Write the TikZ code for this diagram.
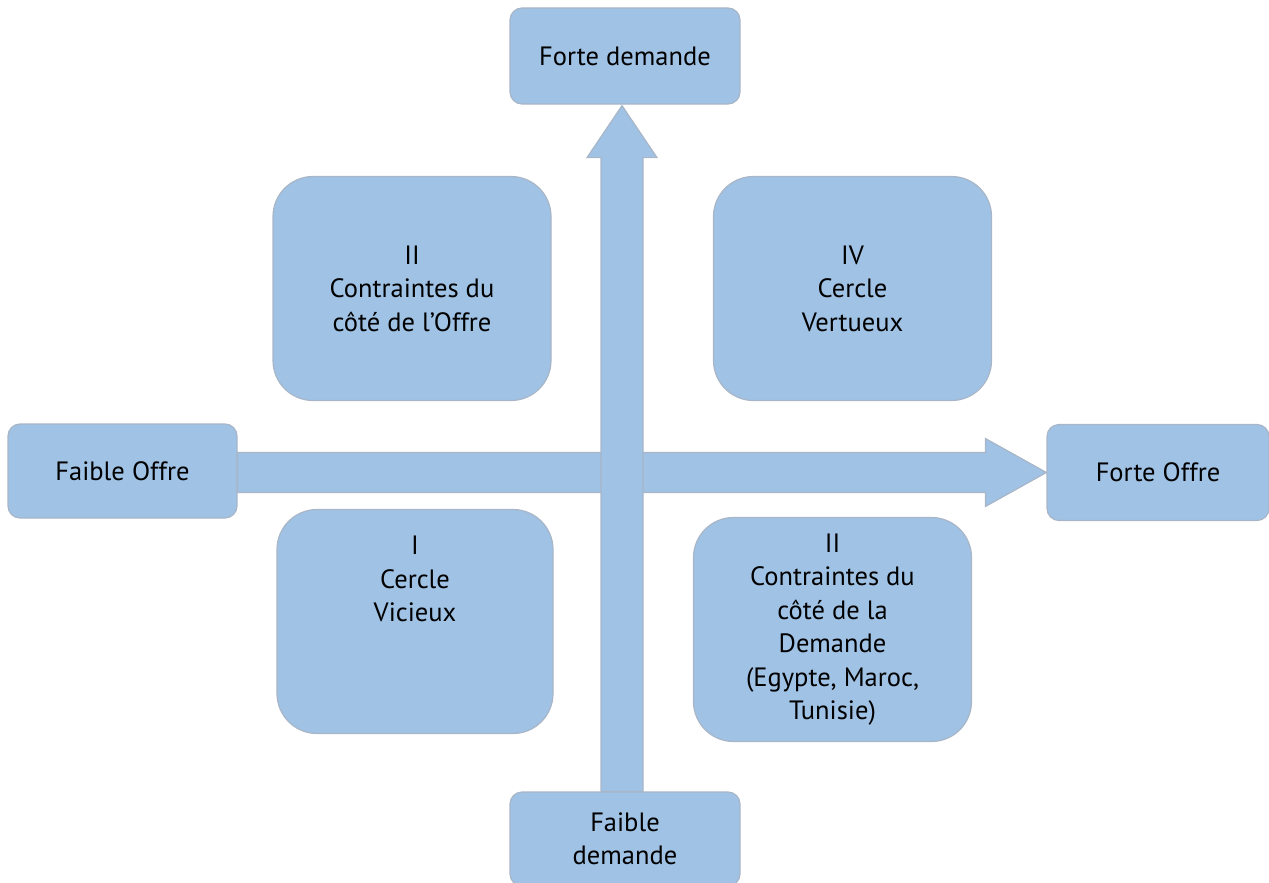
\documentclass[tikz,border=0pt]{standalone}
\usepackage{fontspec}
\setmainfont{PT Sans}
\usetikzlibrary{calc,backgrounds}
\definecolor{boxfill}{HTML}{9FC2E5}
\definecolor{boxline}{HTML}{A8B6C8}
\begin{document}
\begin{tikzpicture}[x=1pt,y=-1pt,
  box/.style={rectangle, rounded corners=12pt, fill=boxfill, draw=boxline, line width=1.2pt,
    minimum width=230pt, minimum height=96pt, inner sep=0pt, align=center,
    font=\fontsize{26.5}{33.5}\selectfont},
  quad/.style={box, rounded corners=40pt, minimum width=278pt, minimum height=224pt},
  bigarrow/.style={fill=boxfill, draw=boxline, line width=1.2pt, line join=miter}]
\useasboundingbox (0,0) rectangle (1269,883);
\node[box] (hiDem) at (625,56) {Forte demande};
\node[box, minimum height=94pt] (loDem) at (625,839) {Faible\\demande};
\node[box, minimum width=229pt, minimum height=94pt] (loOff) at (122.5,471) {Faible Offre};
\node[box, minimum width=222pt] (hiOff) at (1158,472.5) {Forte Offre};
\node[quad] (q2) at (412,288.5) {II\\Contraintes du\\côté de l’Offre};
\node[quad] (q4) at (852.5,288.5) {IV\\Cercle\\Vertueux};
\node[quad, minimum width=276pt,
  label={[align=center, anchor=north, inner sep=0pt, yshift=-27pt, font=\fontsize{26.5}{33.5}\selectfont]north:I\\Cercle\\Vicieux}]
  (q1) at (415,621.5) {};
\node[quad] (q3) at (832.5,629.5) {II\\Contraintes du\\côté de la\\Demande\\(Egypte, Maroc,\\Tunisie)};
\coordinate (htip) at (hiOff.west);
\coordinate (hend) at (loOff.east |- htip);
\coordinate (vtip) at ($(hiDem.south)+(-3,1)$);
\coordinate (vend) at (loDem.north -| vtip);
\begin{scope}[on background layer]
\draw[bigarrow] ($(hend)+(0,-20)$) -- ($(htip)+(-61,-20)$) -- ($(htip)+(-61,-34)$) -- (htip)
  -- ($(htip)+(-61,34)$) -- ($(htip)+(-61,20)$) -- ($(hend)+(0,20)$) -- cycle;
\draw[bigarrow] ($(vend)+(-21,0)$) -- ($(vtip)+(-21,52)$) -- ($(vtip)+(-35,52)$) -- (vtip)
  -- ($(vtip)+(35,52)$) -- ($(vtip)+(21,52)$) -- ($(vend)+(21,0)$) -- cycle;
\end{scope}
\end{tikzpicture}
\end{document}
